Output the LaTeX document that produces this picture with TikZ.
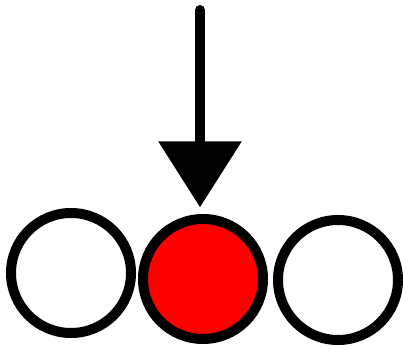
\documentclass[tikz,border=0pt]{standalone}
\usetikzlibrary{arrows.meta}
\begin{document}
\begin{tikzpicture}[x=0.75pt, y=-0.75pt,
    ring/.style={circle, draw=black, line width=7.5pt, minimum size=90pt, inner sep=0pt, fill=white},
    pick/.style={ring, fill=red}]
      \useasboundingbox (0,0) rectangle (403,348);
      % Circles
      \node[ring] (left) at (71,273) {};
      \node[pick] (mid) at (203,279) {};
      \node[ring] (right) at (338,280) {};

      % Arrow
      \coordinate (top) at (200,10);
      \draw[line width=7.5pt, line cap=round,
            -{Triangle[length=49.5pt, width=60.75pt, line cap=butt]}, shorten >=5pt]
            (top) -- (top |- mid.north);
    \end{tikzpicture}
\end{document}
